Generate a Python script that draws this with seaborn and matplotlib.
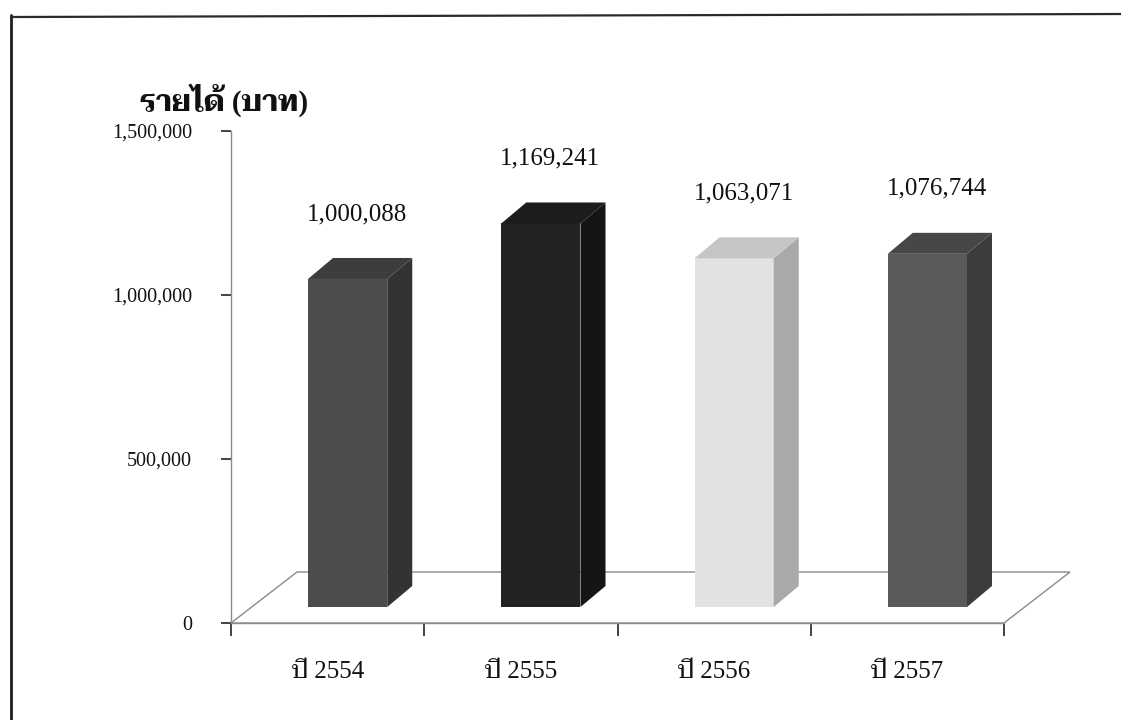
import matplotlib
matplotlib.use("Agg")
import matplotlib.pyplot as plt
from matplotlib.patches import Polygon
from matplotlib.lines import Line2D
from matplotlib.transforms import ScaledTranslation
from matplotlib.ticker import FuncFormatter, FixedLocator
import seaborn as sns
import pandas as pd

# Annual income (baht)
categories = ["ปี 2554", "ปี 2555", "ปี 2556", "ปี 2557"]
income = [1000088, 1169241, 1063071, 1076744]
title = "รายได้ (บาท)"
y_ticks = [0, 500000, 1000000, 1500000]

# shades for the front, side and top faces of each block
front_colors = ["#4c4c4c", "#232323", "#e2e2e2", "#5a5a5a"]
side_colors = ["#333333", "#151515", "#a9a9a9", "#3c3c3c"]
top_colors = ["#3d3d3d", "#1c1c1c", "#c6c6c6", "#474747"]

sns.set_theme(style="white")
plt.rcParams["font.family"] = ["Liberation Serif", "Taviraj", "Noto Serif Thai", "DejaVu Sans"]

W, H, DPI = 1121, 720, 100
fig = plt.figure(figsize=(W / DPI, H / DPI), dpi=DPI)
ax = fig.add_axes([231 / W, (H - 623) / H, 773 / W, 492 / H])

df = pd.DataFrame({"year": categories, "income": income})
sns.barplot(data=df, x="year", y="income", hue="year", palette=front_colors,
            width=0.41, legend=False, ax=ax, saturation=1, linewidth=0,
            zorder=3)
bars = list(ax.patches)

ax.set_xlim(-0.5, 3.5)
ax.set_ylim(0, 1500000)

# pixel -> data scale factors
px_x = 4 / 773.0
px_y = 1500000 / 492.0

# floor depth and block depth (in pixels)
floor_dx, floor_dy = 66, 51
blk_dx, blk_dy = 25, 21
lift_dx, lift_dy = 20, 16   # blocks stand a little way back on the floor

shift = ax.transData + ScaledTranslation(lift_dx / DPI, lift_dy / DPI, fig.dpi_scale_trans)

# floor parallelogram
floor = Polygon([(-0.5, 0), (3.5, 0), (3.5 + floor_dx * px_x, floor_dy * px_y),
                 (-0.5 + floor_dx * px_x, floor_dy * px_y)], closed=True,
                facecolor="white", edgecolor="#8a8a8a", linewidth=1.0,
                clip_on=False, zorder=1)
ax.add_patch(floor)

bdx = blk_dx * px_x
bdy = blk_dy * px_y
for i, p in enumerate(bars):
    p.set_transform(shift)
    p.set_clip_on(False)
    x0 = p.get_x()
    w = p.get_width()
    h = p.get_height()
    x1 = x0 + w
    side = Polygon([(x1, 0), (x1 + bdx, bdy), (x1 + bdx, h + bdy), (x1, h)],
                   closed=True, facecolor=side_colors[i], edgecolor="none",
                   transform=shift, clip_on=False, zorder=3)
    top = Polygon([(x0, h), (x1, h), (x1 + bdx, h + bdy), (x0 + bdx, h + bdy)],
                  closed=True, facecolor=top_colors[i], edgecolor="none",
                  transform=shift, clip_on=False, zorder=3)
    ax.add_patch(side)
    ax.add_patch(top)
    ax.text(x0 + w / 2 + bdx / 2, h + bdy, f"{income[i]:,}",
            transform=shift + ScaledTranslation(-3 / DPI, 44 / DPI, fig.dpi_scale_trans),
            ha="center", va="center", fontsize=18, color="#111111")

# axes: left and bottom only, thin grey
for s in ["top", "right"]:
    ax.spines[s].set_visible(False)
for s in ["left", "bottom"]:
    ax.spines[s].set_color("#8a8a8a")
    ax.spines[s].set_linewidth(1.0)
    ax.spines[s].set_zorder(2)

ax.yaxis.set_major_locator(FixedLocator(y_ticks))
ax.yaxis.set_major_formatter(FuncFormatter(lambda v, _: f"{int(v):,}"))
ax.tick_params(axis="y", which="major", left=True, direction="out", length=7,
               width=1.2, color="#222222", pad=21, labelsize=14.5, labelcolor="#111111")

ax.xaxis.set_major_locator(FixedLocator([-0.5, 0.5, 1.5, 2.5, 3.5]))
ax.xaxis.set_major_formatter(FuncFormatter(lambda v, _: ""))
ax.xaxis.set_minor_locator(FixedLocator([0, 1, 2, 3]))
ax.set_xticklabels(categories, minor=True)
ax.tick_params(axis="x", which="major", bottom=True, direction="out", length=9,
               width=1.2, color="#222222")
ax.tick_params(axis="x", which="minor", bottom=True, length=0, pad=27,
               labelsize=18, labelcolor="#111111")
ax.set_xlabel("")
ax.set_ylabel("")

fig.text(140 / W, 1 - 100 / H, title, ha="left", va="center",
         fontsize=21, fontweight="bold", color="#111111")

# page frame
fig.add_artist(Line2D([11 / W, 11 / W], [0, 1 - 15 / H], transform=fig.transFigure,
                      color="#1e1e1e", linewidth=2.0))
fig.add_artist(Line2D([11 / W, 1], [1 - 17 / H, 1 - 14 / H], transform=fig.transFigure,
                      color="#2a2a2a", linewidth=1.6))

fig.savefig("out.png", dpi=DPI)
